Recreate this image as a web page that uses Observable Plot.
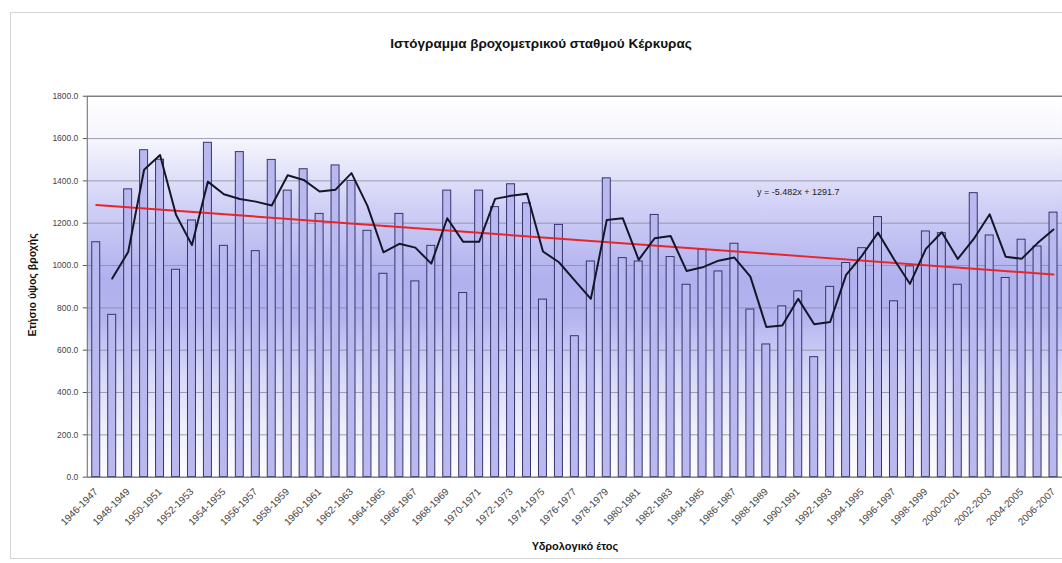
<!DOCTYPE html>
<html>
<head>
<meta charset="utf-8">
<script src="https://cdn.jsdelivr.net/npm/d3@7"></script>
<script src="https://cdn.jsdelivr.net/npm/@observablehq/plot@0.6"></script>
<style>
  html, body { margin: 0; padding: 0; background: #fff; overflow: hidden; }
  #wrap { position: relative; width: 1062px; height: 563px; overflow: hidden; background: #fff;
          font-family: "Liberation Sans", Arial, sans-serif; }
  #border { position: absolute; left: 10px; top: 12px; width: 1070px; height: 547px;
            border: 1px solid #d4d4d4; box-sizing: border-box; }
  #chart { position: absolute; left: 0; top: 0; }
  #title { position: absolute; left: 0; top: 36px; width: 1082px; text-align: center;
           font-weight: bold; font-size: 13.5px; color: #111; }
  #ylabel { position: absolute; left: 32px; top: 285px; transform: translate(-50%, -50%) rotate(-90deg);
            font-weight: bold; font-size: 10.5px; color: #111; white-space: nowrap; }
  #xlabel { position: absolute; left: 575px; top: 546px; transform: translate(-50%, -50%);
            font-weight: bold; font-size: 11px; color: #111; white-space: nowrap; }
</style>
</head>
<body>
<div id="wrap">
  <div id="border"></div>
  <div id="chart"></div>
  <div id="title">Ιστόγραμμα βροχομετρικού σταθμού Κέρκυρας</div>
  <div id="ylabel">Ετήσιο ύψος βροχής</div>
  <div id="xlabel">Υδρολογικό έτος</div>
</div>
<script>
// Hydrological years (categories)
const years = [
  "1946-1947","1947-1948","1948-1949","1949-1950","1950-1951","1951-1952","1952-1953","1953-1954",
  "1954-1955","1955-1956","1956-1957","1957-1958","1958-1959","1959-1960","1960-1961","1961-1962",
  "1962-1963","1963-1964","1964-1965","1965-1966","1966-1967","1967-1968","1968-1969","1969-1970",
  "1970-1971","1971-1972","1972-1973","1973-1974","1974-1975","1975-1976","1976-1977","1977-1978",
  "1978-1979","1979-1980","1980-1981","1981-1982","1982-1983","1983-1984","1984-1985","1985-1986",
  "1986-1987","1987-1988","1988-1989","1989-1990","1990-1991","1991-1992","1992-1993","1993-1994",
  "1994-1995","1995-1996","1996-1997","1997-1998","1998-1999","1999-2000","2000-2001","2001-2002",
  "2002-2003","2003-2004","2004-2005","2005-2006","2006-2007"
];
// Annual rainfall (mm)
const rainfall = [
  1110, 767, 1360, 1545, 1500, 980, 1213, 1580, 1093, 1536,
  1068, 1499, 1354, 1455, 1244, 1473, 1400, 1164, 961, 1244,
  925, 1093, 1354, 870, 1354, 1276, 1384, 1294, 839, 1192,
  666, 1019, 1412, 1035, 1019, 1239, 1040, 909, 1074, 972,
  1103, 792, 627, 807, 878, 567, 899, 1012, 1082, 1229,
  831, 996, 1161, 1153, 909, 1342, 1142, 941, 1122, 1090,
  1250
];
// Axis ticks
const yTicks = [0, 200, 400, 600, 800, 1000, 1200, 1400, 1600, 1800];
const xTickLabels = years.filter((d, i) => i % 2 === 0);
// Linear trend shown on chart: y = -5.482x + 1291.7 (x = 1..61)
const trendSlope = -5.482;
const trendIntercept = 1291.7;
const trendLabel = "y = -5.482x + 1291.7";

const data = years.map((year, i) => ({year, value: rainfall[i]}));
// 2-period moving average
const movingAvg = data.slice(1).map((d, i) => ({year: d.year, value: (rainfall[i] + rainfall[i + 1]) / 2}));
const trend = [0, years.length - 1].map(i => ({year: years[i], value: trendSlope * (i + 1) + trendIntercept}));

const plot = Plot.plot({
  width: 1065,
  height: 563,
  marginLeft: 87,
  marginRight: 0,
  marginTop: 96,
  marginBottom: 85,
  style: {fontFamily: "Liberation Sans, Arial, sans-serif", background: "transparent", overflow: "hidden"},
  x: {type: "band", domain: years, paddingInner: 0.5, paddingOuter: 0.25, label: null},
  y: {domain: [0, 1800], label: null},
  marks: [
    Plot.frame({fill: "url(#bgGrad)", stroke: "none"}),
    Plot.gridY(yTicks, {stroke: "#8a8a9a", strokeOpacity: 1, strokeWidth: 0.8}),
    Plot.barY(data, {x: "year", y: "value", fill: "#b9b9f0", stroke: "#35356e", strokeWidth: 1}),
    Plot.line(trend, {x: "year", y: "value", stroke: "#e8252b", strokeWidth: 2}),
    Plot.line(movingAvg, {x: "year", y: "value", stroke: "#16162a", strokeWidth: 2}),
    Plot.text([trendLabel], {x: () => years[44], y: () => 1348, text: d => d, fontSize: 9, fill: "#222"}),
    Plot.frame({stroke: "#666", strokeWidth: 1}),
    Plot.axisY(yTicks, {tickFormat: d => d.toFixed(1), tickSize: 4, tickPadding: 5, fontSize: 8.5, fill: "#444", stroke: "#555"}),
    Plot.axisX(xTickLabels, {tickRotate: -45, tickSize: 0, tickPadding: 13, fontSize: 10, fill: "#444"})
  ]
});

// gradient background for plot area
const ns = "http://www.w3.org/2000/svg";
const defs = document.createElementNS(ns, "defs");
defs.innerHTML = `
  <linearGradient id="bgGrad" x1="0" y1="0" x2="0" y2="1">
    <stop offset="0" stop-color="#ffffff"/>
    <stop offset="0.12" stop-color="#f4f4fd"/>
    <stop offset="0.28" stop-color="#d2d2f7"/>
    <stop offset="0.48" stop-color="#b0b0ee"/>
    <stop offset="0.58" stop-color="#b4b4f0"/>
    <stop offset="0.72" stop-color="#d6d6f8"/>
    <stop offset="0.88" stop-color="#f0f0fc"/>
    <stop offset="1" stop-color="#fdfdff"/>
  </linearGradient>`;
plot.insertBefore(defs, plot.firstChild);
document.getElementById("chart").appendChild(plot);
</script>
</body>
</html>
